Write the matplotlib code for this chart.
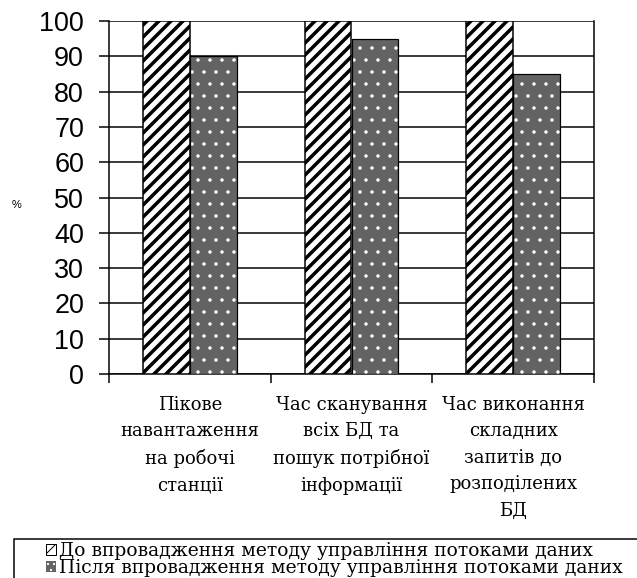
import numpy as np
import matplotlib
matplotlib.use("Agg")
import matplotlib.pyplot as plt
from matplotlib.patches import Patch, Rectangle

# data
categories = [
    "Пікове\nнавантаження\nна робочі\nстанції",
    "Час сканування\nвсіх БД та\nпошук потрібної\nінформації",
    "Час виконання\nскладних\nзапитів до\nрозподілених\nБД",
]
before_vals = [100, 100, 100]
after_vals = [90, 95, 85]
series_labels = [
    "До впровадження методу управління потоками даних",
    "Після впровадження методу управління потоками даних",
]
y_ticks = list(range(0, 101, 10))

DPI = 72
fig = plt.figure(figsize=(637 / DPI, 578 / DPI), dpi=DPI)
ax = fig.add_axes([109 / 637, 1 - 374 / 578, (594 - 109) / 637, (374 - 21) / 578])

serif = ["DejaVu Serif", "Liberation Serif"]
sans = ["Liberation Sans", "DejaVu Sans"]

x = np.arange(len(categories))
w = 0.29
dot_grey = "#636363"

# hatched bars (before)
bars1 = ax.bar(x - w / 2, before_vals, w, facecolor="white", edgecolor="black",
               linewidth=1.5, hatch="//", zorder=3)
# dotted bars (after): white dots on dark grey, then a black outline on top
bars2 = ax.bar(x + w / 2, after_vals, w, facecolor=dot_grey, edgecolor="white",
               linewidth=0, hatch=".", zorder=3)
ax.bar(x + w / 2, after_vals, w, fill=False, edgecolor="black", linewidth=1.2, zorder=4)

for b in bars1:
    if hasattr(b, "set_hatch_linewidth"):
        b.set_hatch_linewidth(3.5)
for b in bars2:
    if hasattr(b, "set_hatch_linewidth"):
        b.set_hatch_linewidth(1.0)

ax.set_xlim(-0.5, len(categories) - 0.5)
ax.set_ylim(0, 100)
ax.set_yticks(y_ticks)
ax.set_yticklabels([str(v) for v in y_ticks], family=sans, fontsize=27)
ax.yaxis.grid(True, color="black", linewidth=1.5, zorder=0)
ax.set_axisbelow(True)

ax.set_xticks(x)
ax.set_xticklabels(categories, family=serif, fontsize=18, linespacing=1.6, va="top")
ax.set_xticks(np.arange(len(categories) + 1) - 0.5, minor=True)
ax.tick_params(axis="x", which="major", length=0, pad=22)
ax.tick_params(axis="x", which="minor", length=9, width=1.5, color="black")
ax.tick_params(axis="y", length=10, width=1.5, pad=15, color="black")

ax.spines["top"].set_visible(False)
for s in ["left", "right", "bottom"]:
    ax.spines[s].set_linewidth(1.5)
    ax.spines[s].set_color("black")

fig.text(17 / 637, 1 - 205 / 578, "%", family=sans, fontsize=11, ha="center", va="center")

# legend with its box running off the bottom/right like the source
fig.patches.append(Rectangle((14 / 637, -0.1), 1.0, 0.1 + (578 - 539) / 578,
                             transform=fig.transFigure, facecolor="white",
                             edgecolor="black", linewidth=1.5, zorder=1))
h1 = Patch(facecolor="white", edgecolor="black", hatch="/", linewidth=1.0)
h2 = Patch(facecolor=dot_grey, edgecolor="white", hatch="..", linewidth=0)
fig.legend([h1, h2], series_labels, loc="upper left",
           bbox_to_anchor=(46 / 637, 1 - 542 / 578), bbox_transform=fig.transFigure,
           frameon=False, borderpad=0, borderaxespad=0, handlelength=0.55,
           handleheight=0.55, handletextpad=0.15, labelspacing=-0.05,
           prop={"family": serif, "size": 18.8})

fig.savefig("out.png", dpi=DPI)
